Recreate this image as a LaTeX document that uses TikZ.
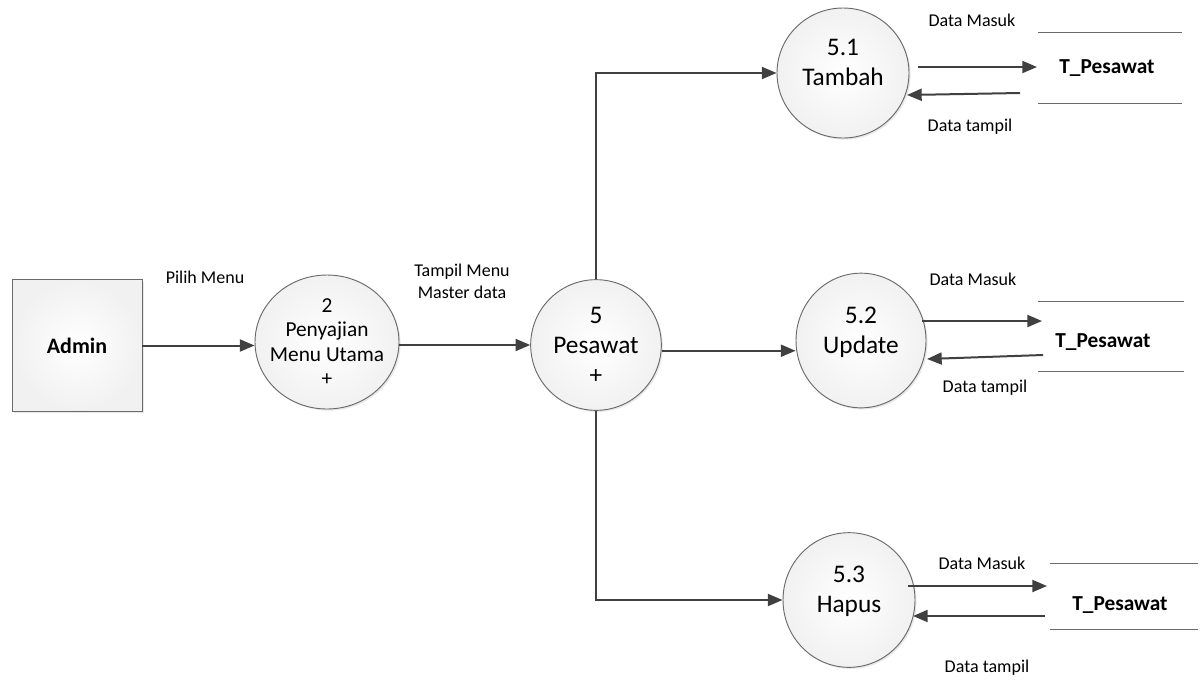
\documentclass[tikz,border=0pt]{standalone}
\usepackage{fontspec}
\setmainfont{Carlito}
\usetikzlibrary{arrows.meta,calc,shadows,shapes.geometric}
\definecolor{flowgray}{HTML}{404040}
\definecolor{edgegray}{HTML}{6A6A6A}

\begin{document}
\begin{tikzpicture}[x=0.75pt,y=-0.75pt,
    flow/.style={draw=flowgray, line width=1.5pt, -{Triangle[length=11pt,width=9pt]}},
    storeline/.style={draw=edgegray, line width=0.7pt},
    proc/.style={ellipse, draw=edgegray, line width=0.7pt, inner color=white, outer color=gray!11,
        minimum width=98pt, minimum height=98pt, inner sep=0pt, align=center,
        drop shadow={shadow xshift=1.2pt, shadow yshift=-1.2pt, opacity=0.18}},
    small/.style={font=\fontsize{16}{18.3}\selectfont},
    big/.style={font=\fontsize{19}{22.5}\selectfont},
    entity/.style={draw=edgegray, line width=0.7pt, inner color=white, outer color=gray!11,
        minimum width=97.5pt, minimum height=98.5pt,
        font=\fontsize{16.5}{19}\selectfont\bfseries,
        drop shadow={shadow xshift=1.5pt, shadow yshift=-1.5pt, opacity=0.18}},
    store/.style={font=\fontsize{16}{19}\selectfont\bfseries},
    lbl/.style={font=\fontsize{13.5}{16.5}\selectfont, align=center}]
    \useasboundingbox (0,0) rectangle (1202,679);

    \node[entity] (admin) at (77,345.5) {Admin};
    \node[proc, small, inner xsep=-6pt, inner ysep=-3pt, minimum width=108pt, minimum height=100.5pt] (p2) at (327,342) {2\\Penyajian\\Menu Utama\\+};
    \node[proc, big] (p5) at (596,345) {5\\Pesawat\\+};
    \node[proc, big, minimum width=99pt, minimum height=97.5pt] (p51) at (843,73) {5.1\\Tambah\\[-6pt]~};
    \node[proc, big, minimum width=97.5pt, minimum height=101pt] (p52) at (861,340.5) {5.2\\Update\\[-7pt]~};
    \node[proc, big, minimum width=99pt, minimum height=101pt] (p53) at (849,600) {5.3\\Hapus\\[-6pt]~};

    \node[store] (s1) at (1107,68) {T\_Pesawat};
    \node[store] (s2) at (1103,342) {T\_Pesawat};
    \node[store] (s3) at (1120,605) {T\_Pesawat};
    \draw[storeline] ($(s1)+(-69,-36)$) -- +(144,0);
    \draw[storeline] ($(s1)+(-69,35)$) -- +(144,0);
    \draw[storeline] ($(s2)+(-65,-41)$) -- +(146,0);
    \draw[storeline] ($(s2)+(-65,29)$) -- +(146,0);
    \draw[storeline] ($(s3)+(-70,-42)$) -- +(148,0);
    \draw[storeline] ($(s3)+(-70,24)$) -- +(148,0);

    \draw[flow] (admin) -- (admin -| p2.west);
    \draw[flow] (p5 -| p2.east) -- (p5.west);
    \draw[flow] (p5.north) |- (p51.west);
    \draw[flow] (p5.-5) -- (p5.-5 -| p52.west);
    \draw[flow] (p5.south) |- (p53.west);

    \draw[flow] ($(p51)+(75,-6)$) -- ($(s1)+(-70,-1)$);
    \draw[flow] ($(s1)+(-87,25)$) -- ($(p51)+(64,22)$);
    \draw[flow] ($(p52)+(61,-19.5)$) -- ($(s2)+(-61,-21)$);
    \draw[flow] ($(s2)+(-60,13)$) -- ($(p52)+(66,18.5)$);
    \draw[flow] ($(p53)+(59,-14)$) -- ($(s3)+(-73,-19)$);
    \draw[flow] ($(s3)+(-75,11)$) -- ($(p53)+(64,16)$);

    \node[lbl] (pilih) at (205,277) {Pilih Menu};
    \node[lbl] (tampil) at (462,281) {Tampil Menu\\Master data};
    \node[lbl] (dm1) at (972,20) {Data Masuk};
    \node[lbl] (dt1) at (970,127) {Data tampil};
    \node[lbl] (dm2) at (973,279) {Data Masuk};
    \node[lbl] (dt2) at (985,388) {Data tampil};
    \node[lbl] (dm3) at (982,563) {Data Masuk};
    \node[lbl] (dt3) at (987,668) {Data tampil};
\end{tikzpicture}
\end{document}
